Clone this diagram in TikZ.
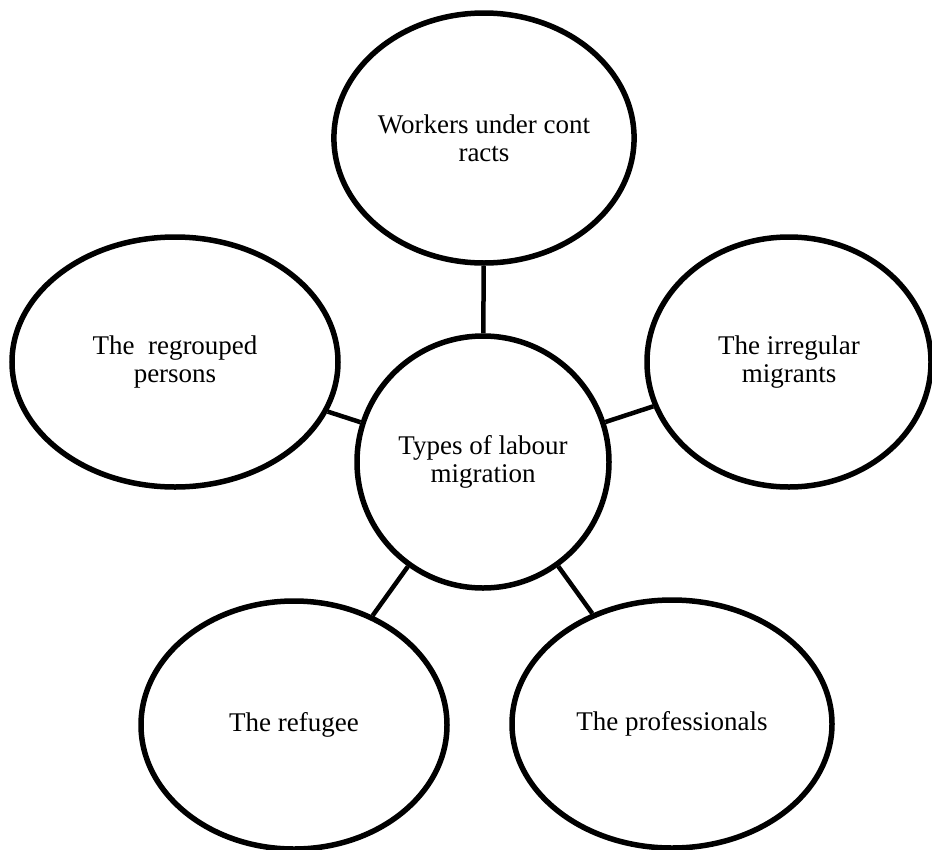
\documentclass[tikz,border=0pt]{standalone}
\usepackage{fontspec}
\setmainfont{Liberation Serif}
\usepackage{tikz}
\usetikzlibrary{shapes.geometric}

\begin{document}
\begin{tikzpicture}[x=1pt,y=-1pt,
      blob/.style={ellipse,draw=black,line width=5.5pt,fill=white,align=center,
                   inner sep=0pt,font=\fontsize{27}{28}\selectfont},
      hub/.style={blob,circle,minimum size=252pt},
      link/.style={draw=black,line width=4.5pt}]

    \useasboundingbox (0,0) rectangle (932,849);

    \node[hub] (types) at (483,462) {Types of labour\\migration};

    \node[blob,minimum width=288pt,minimum height=250pt] (workers) at (484,138) {Workers under cont\\racts};
    \node[blob,minimum width=326pt,minimum height=250pt] (regroup) at (175,362) {The\ \ regrouped\\persons};
    \node[blob,minimum width=284pt,minimum height=250pt] (irreg) at (789,362) {The irregular\\migrants};
    \node[blob,minimum width=306pt,minimum height=248pt] (refugee) at (294,725) {The refugee};
    \node[blob,minimum width=320pt,minimum height=248pt] (prof) at (672,724) {The professionals};

    \draw[link] (types) -- (workers);
    \draw[link] (types) -- (regroup);
    \draw[link] (types) -- (irreg);
    \draw[link] (types) -- (refugee);
    \draw[link] (types) -- (prof);
  \end{tikzpicture}
\end{document}
